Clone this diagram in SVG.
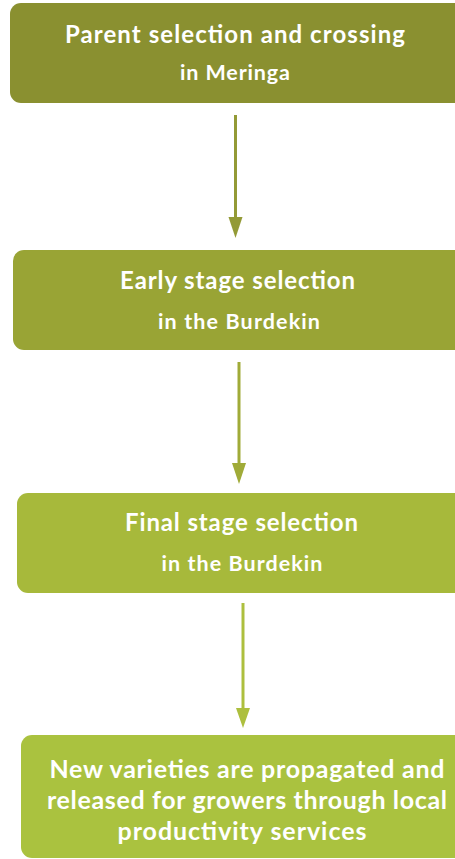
<svg xmlns="http://www.w3.org/2000/svg" width="455" height="859" viewBox="0 0 455 859">
<style>
.box{stroke:none}
.t1{font-family:Lato,"Open Sans","Liberation Sans",sans-serif;font-weight:bold;fill:#ffffff;text-anchor:middle;font-size:24px}
.t2{font-family:Lato,"Open Sans","Liberation Sans",sans-serif;font-weight:bold;fill:#ffffff;text-anchor:middle;font-size:21.5px}
.t4{font-family:Lato,"Open Sans","Liberation Sans",sans-serif;font-weight:bold;fill:#ffffff;text-anchor:middle;font-size:25px}
.ln{stroke-width:3;fill:none}
</style>
<rect width="455" height="859" fill="#ffffff"/>
<g id="connectors">
  <line class="ln" x1="235.5" y1="115" x2="235.5" y2="220" stroke="#939a36"/>
  <polygon points="228.5,217 242.5,217 235.5,238" fill="#939a36"/>
  <line class="ln" x1="239" y1="362" x2="239" y2="466" stroke="#a0ab38"/>
  <polygon points="232,463 246,463 239,484" fill="#a0ab38"/>
  <line class="ln" x1="243" y1="603" x2="243" y2="711" stroke="#adbf3e"/>
  <polygon points="236,708 250,708 243,728" fill="#adbf3e"/>
</g>
<g id="node1">
  <rect class="box" x="10" y="3" width="460" height="100" rx="11" fill="#8a9030"/>
  <text class="t1" x="235" y="43" textLength="340">Parent selection and crossing</text>
  <text class="t2" x="235" y="80" textLength="110">in Meringa</text>
</g>
<g id="node2">
  <rect class="box" x="13" y="250" width="460" height="100" rx="11" fill="#99a435"/>
  <text class="t1" x="237.5" y="289" textLength="235">Early stage selection</text>
  <text class="t2" x="239" y="329" textLength="162">in the Burdekin</text>
</g>
<g id="node3">
  <rect class="box" x="17" y="493" width="460" height="100" rx="11" fill="#a7b93b"/>
  <text class="t1" x="241.5" y="531" textLength="233">Final stage selection</text>
  <text class="t2" x="242" y="571" textLength="161">in the Burdekin</text>
</g>
<g id="node4">
  <rect class="box" x="21" y="735" width="460" height="123" rx="11" fill="#aac23f"/>
  <text class="t4" x="247" y="778" textLength="395">New varieties are propagated and</text>
  <text class="t4" x="247" y="809" textLength="400">released for growers through local</text>
  <text class="t4" x="242" y="840" textLength="249">productivity services</text>
</g>
</svg>
